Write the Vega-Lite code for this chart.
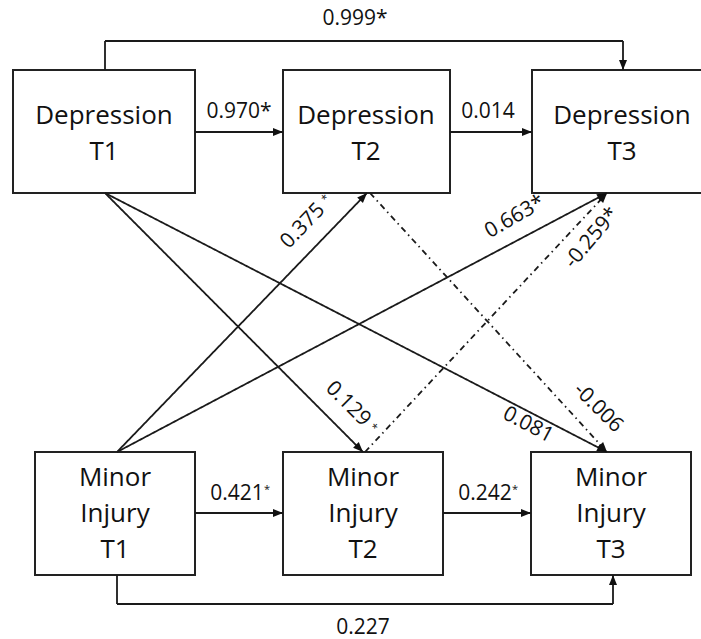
{
  "$schema": "https://vega.github.io/schema/vega-lite/v6.json",
  "width": 701,
  "height": 639,
  "autosize": {"type": "fit", "contains": "padding"},
  "padding": 0,
  "background": "white",
  "config": {"view": {"stroke": null}, "axis": {"disable": true}},
  "datasets": {
    "boxes": [
      {"node": "Depression T1", "x": 13, "x2": 195, "y": 70, "y2": 193, "cx": 104, "cy": 116, "label": ["Depression", "T1"]},
      {"node": "Depression T2", "x": 283, "x2": 450, "y": 70, "y2": 193, "cx": 366, "cy": 116, "label": ["Depression", "T2"]},
      {"node": "Depression T3", "x": 532, "x2": 712, "y": 70, "y2": 193, "cx": 622, "cy": 116, "label": ["Depression", "T3"]},
      {"node": "Minor Injury T1", "x": 35, "x2": 195, "y": 452, "y2": 575, "cx": 115, "cy": 478, "label": ["Minor", "Injury", "T1"]},
      {"node": "Minor Injury T2", "x": 283, "x2": 443, "y": 452, "y2": 575, "cx": 363, "cy": 478, "label": ["Minor", "Injury", "T2"]},
      {"node": "Minor Injury T3", "x": 531, "x2": 691, "y": 452, "y2": 575, "cx": 611, "cy": 478, "label": ["Minor", "Injury", "T3"]}
    ],
    "paths": [
      {"edge": "D1-D3", "seq": 1, "x": 105, "y": 70, "sign": "positive"},
      {"edge": "D1-D3", "seq": 2, "x": 105, "y": 41, "sign": "positive"},
      {"edge": "D1-D3", "seq": 3, "x": 623, "y": 41, "sign": "positive"},
      {"edge": "D1-D3", "seq": 4, "x": 623, "y": 70, "sign": "positive"},
      {"edge": "D1-D2", "seq": 1, "x": 195, "y": 132, "sign": "positive"},
      {"edge": "D1-D2", "seq": 2, "x": 283, "y": 132, "sign": "positive"},
      {"edge": "D2-D3", "seq": 1, "x": 450, "y": 132, "sign": "positive"},
      {"edge": "D2-D3", "seq": 2, "x": 532, "y": 132, "sign": "positive"},
      {"edge": "M1-M2", "seq": 1, "x": 195, "y": 513, "sign": "positive"},
      {"edge": "M1-M2", "seq": 2, "x": 283, "y": 513, "sign": "positive"},
      {"edge": "M2-M3", "seq": 1, "x": 443, "y": 513, "sign": "positive"},
      {"edge": "M2-M3", "seq": 2, "x": 531, "y": 513, "sign": "positive"},
      {"edge": "M1-M3", "seq": 1, "x": 117, "y": 575, "sign": "positive"},
      {"edge": "M1-M3", "seq": 2, "x": 117, "y": 604, "sign": "positive"},
      {"edge": "M1-M3", "seq": 3, "x": 613, "y": 604, "sign": "positive"},
      {"edge": "M1-M3", "seq": 4, "x": 613, "y": 575, "sign": "positive"},
      {"edge": "D1-M2", "seq": 1, "x": 105, "y": 193, "sign": "positive"},
      {"edge": "D1-M2", "seq": 2, "x": 363, "y": 452, "sign": "positive"},
      {"edge": "D1-M3", "seq": 1, "x": 105, "y": 193, "sign": "positive"},
      {"edge": "D1-M3", "seq": 2, "x": 607, "y": 452, "sign": "positive"},
      {"edge": "M1-D2", "seq": 1, "x": 117, "y": 452, "sign": "positive"},
      {"edge": "M1-D2", "seq": 2, "x": 367, "y": 193, "sign": "positive"},
      {"edge": "M1-D3", "seq": 1, "x": 117, "y": 452, "sign": "positive"},
      {"edge": "M1-D3", "seq": 2, "x": 607, "y": 193, "sign": "positive"},
      {"edge": "D2-M3", "seq": 1, "x": 370, "y": 193, "sign": "negative"},
      {"edge": "D2-M3", "seq": 2, "x": 607, "y": 452, "sign": "negative"},
      {"edge": "M2-D3", "seq": 1, "x": 365, "y": 452, "sign": "negative"},
      {"edge": "M2-D3", "seq": 2, "x": 607, "y": 193, "sign": "negative"}
    ],
    "heads": [
      {"edge": "D1-D3", "x": 623, "y": 70, "dir": 180},
      {"edge": "D1-D2", "x": 283, "y": 132, "dir": 90},
      {"edge": "D2-D3", "x": 532, "y": 132, "dir": 90},
      {"edge": "M1-M2", "x": 283, "y": 513, "dir": 90},
      {"edge": "M2-M3", "x": 531, "y": 513, "dir": 90},
      {"edge": "M1-M3", "x": 613, "y": 575, "dir": 0},
      {"edge": "D1-M2", "x": 363, "y": 452, "dir": 135},
      {"edge": "D1-M3", "x": 607, "y": 452, "dir": 117},
      {"edge": "M1-D2", "x": 367, "y": 193, "dir": 44},
      {"edge": "M1-D3", "x": 607, "y": 193, "dir": 62},
      {"edge": "D2-M3", "x": 607, "y": 452, "dir": 137},
      {"edge": "M2-D3", "x": 607, "y": 193, "dir": 43}
    ],
    "coefs": [
      {"edge": "D1-D3", "text": "0.999*", "x": 355, "y": 19, "rot": 0},
      {"edge": "D1-D2", "text": "0.970*", "x": 239, "y": 112, "rot": 0},
      {"edge": "D2-D3", "text": "0.014", "x": 488, "y": 112, "rot": 0},
      {"edge": "M1-M2", "text": "0.421", "x": 237, "y": 494, "rot": 0},
      {"edge": "M2-M3", "text": "0.242", "x": 485, "y": 494, "rot": 0},
      {"edge": "M1-M3", "text": "0.227", "x": 363, "y": 628, "rot": 0},
      {"edge": "D1-M2", "text": "0.129", "x": 348, "y": 404, "rot": 45},
      {"edge": "D1-M3", "text": "0.081", "x": 528, "y": 425, "rot": 28},
      {"edge": "M1-D2", "text": "0.375", "x": 303, "y": 226, "rot": -46},
      {"edge": "M1-D3", "text": "0.663*", "x": 515, "y": 217, "rot": -30},
      {"edge": "D2-M3", "text": "-0.006", "x": 598, "y": 408, "rot": 45},
      {"edge": "M2-D3", "text": "-0.259*", "x": 592, "y": 238, "rot": -50}
    ],
    "stars": [
      {"edge": "M1-M2", "x": 267, "y": 490, "rot": 0},
      {"edge": "M2-M3", "x": 515, "y": 490, "rot": 0},
      {"edge": "D1-M2", "x": 373, "y": 428, "rot": 45},
      {"edge": "M1-D2", "x": 326, "y": 199, "rot": -46}
    ]
  },
  "layer": [
    {
      "data": {"name": "boxes"},
      "mark": {"type": "rect", "fill": "white", "stroke": "#222222", "strokeWidth": 2, "clip": true},
      "encoding": {
        "x": {"field": "x", "type": "quantitative", "scale": {"domain": [0, 701], "nice": false, "zero": false}, "axis": null},
        "x2": {"field": "x2"},
        "y": {"field": "y", "type": "quantitative", "scale": {"domain": [0, 639], "nice": false, "zero": false, "reverse": true}, "axis": null},
        "y2": {"field": "y2"}
      }
    },
    {
      "data": {"name": "paths"},
      "mark": {"type": "line", "stroke": "#1a1a1a", "strokeWidth": 1.8},
      "encoding": {
        "x": {"field": "x", "type": "quantitative", "scale": {"domain": [0, 701], "nice": false, "zero": false}, "axis": null},
        "y": {"field": "y", "type": "quantitative", "scale": {"domain": [0, 639], "nice": false, "zero": false, "reverse": true}, "axis": null},
        "detail": {"field": "edge", "type": "nominal"},
        "order": {"field": "seq", "type": "quantitative"},
        "strokeDash": {"field": "sign", "type": "nominal", "scale": {"domain": ["positive", "negative"], "range": [[1, 0], [6, 4, 1.5, 4]]}, "legend": null}
      }
    },
    {
      "data": {"name": "heads"},
      "mark": {"type": "point", "shape": "M0,0L-0.8,2L0.8,2Z", "filled": true, "fill": "#111111", "strokeWidth": 0, "size": 100, "opacity": 1},
      "encoding": {
        "x": {"field": "x", "type": "quantitative", "scale": {"domain": [0, 701], "nice": false, "zero": false}, "axis": null},
        "y": {"field": "y", "type": "quantitative", "scale": {"domain": [0, 639], "nice": false, "zero": false, "reverse": true}, "axis": null},
        "angle": {"field": "dir", "type": "quantitative", "scale": null}
      }
    },
    {
      "data": {"name": "coefs"},
      "mark": {"type": "text", "font": "Open Sans", "fontSize": 21, "color": "#111111", "align": "center", "baseline": "middle"},
      "encoding": {
        "x": {"field": "x", "type": "quantitative", "scale": {"domain": [0, 701], "nice": false, "zero": false}, "axis": null},
        "y": {"field": "y", "type": "quantitative", "scale": {"domain": [0, 639], "nice": false, "zero": false, "reverse": true}, "axis": null},
        "text": {"field": "text", "type": "nominal"},
        "angle": {"field": "rot", "type": "quantitative", "scale": null}
      }
    },
    {
      "data": {"name": "stars"},
      "mark": {"type": "text", "font": "Open Sans", "fontSize": 11, "color": "#111111", "align": "center", "baseline": "middle", "text": "*"},
      "encoding": {
        "x": {"field": "x", "type": "quantitative", "scale": {"domain": [0, 701], "nice": false, "zero": false}, "axis": null},
        "y": {"field": "y", "type": "quantitative", "scale": {"domain": [0, 639], "nice": false, "zero": false, "reverse": true}, "axis": null},
        "angle": {"field": "rot", "type": "quantitative", "scale": null}
      }
    },
    {
      "data": {"name": "boxes"},
      "mark": {"type": "text", "font": "Open Sans", "fontSize": 26, "lineHeight": 36, "color": "#111111", "align": "center", "baseline": "middle"},
      "encoding": {
        "x": {"field": "cx", "type": "quantitative", "scale": {"domain": [0, 701], "nice": false, "zero": false}, "axis": null},
        "y": {"field": "cy", "type": "quantitative", "scale": {"domain": [0, 639], "nice": false, "zero": false, "reverse": true}, "axis": null},
        "text": {"field": "label", "type": "nominal"}
      }
    }
  ]
}
